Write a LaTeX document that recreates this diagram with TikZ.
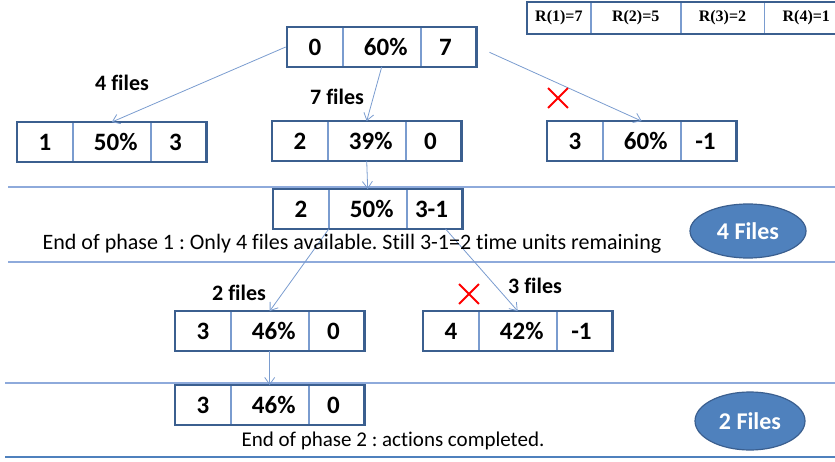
\documentclass[tikz,border=0pt]{standalone}
\usepackage{fontspec}
\setmainfont{Carlito}[Ligatures=NoCommon]
\newfontfamily\rfont{Liberation Serif}
\usepackage{xcolor}
\usetikzlibrary{positioning, fit, shapes.geometric, shapes.misc, arrows.meta}
\frenchspacing

\definecolor{frameblue}{HTML}{3B5F8F}
\definecolor{cellblue}{HTML}{7A9CCF}
\definecolor{lineblue}{HTML}{8EAADB}
\definecolor{fillblue}{HTML}{4F81BD}

\tikzset{
  lcell/.style={draw=cellblue, line width=0.8pt, minimum width=55pt, minimum height=39pt,
    inner sep=0pt, font=\fontsize{25}{27}\selectfont\bfseries},
  mcell/.style={lcell, minimum width=77pt},
  frame/.style={draw=frameblue, line width=2.6pt, inner sep=0pt},
  link/.style={draw=cellblue, line width=0.8pt, -{Straight Barb[length=7pt, width=10pt]}},
  count/.style={font=\fontsize{22}{24}\selectfont\bfseries},
  nogo/.style={cross out, draw=red, line width=1.8pt, minimum size=18pt, inner sep=0pt},
  phase/.style={font=\fontsize{22}{24}\selectfont},
  sep/.style={draw=lineblue, line width=1.4pt},
  files/.style={ellipse, draw=frameblue, line width=1.2pt, fill=fillblue, text=white,
    font=\fontsize{24}{26}\selectfont\bfseries},
  rcell/.style={draw=cellblue, line width=0.8pt, minimum height=32pt, inner sep=0pt,
    font=\rfont\fontsize{16}{18}\selectfont\bfseries},
}

% box of three cells: name, west point, texts
\newcommand{\statebox}[5]{%
  \node[lcell, anchor=west] (#1-l) at (#2) {#3};
  \node[mcell, right=0pt of #1-l] (#1-m) {\hspace*{8pt}#4};
  \node[lcell, right=0pt of #1-m] (#1-r) {#5\hspace*{6pt}};
  \node[frame, fit=(#1-l)(#1-r)] (#1) {};
}

\begin{document}
\begin{tikzpicture}[x=1pt, y=-1pt]
  \useasboundingbox (0,0) rectangle (835,462);

  % table of R values
  \node[rcell, anchor=west, minimum width=63pt] (r1) at (527,18) {R(1)=7};
  \node[rcell, right=0pt of r1, minimum width=89pt] (r2) {R(2)=5};
  \node[rcell, right=0pt of r2, minimum width=83pt] (r3) {R(3)=2};
  \node[rcell, right=0pt of r3, minimum width=83pt] (r4) {R(4)=1};
  \node[frame, line width=2pt, fit=(r1)(r4)] (rtab) {};

  % separators
  \draw[sep] (8,187) -- (835,187);
  \draw[sep] (8,262) -- (835,262);
  \draw[sep] (5,383) -- (835,383);
  \draw[sep, draw=fillblue] (5,457) -- (835,457);

  % states
  \statebox{top}{287,47}{0}{60\%}{7}
  \statebox{n1}{17,142}{1}{50\%}{3}
  \statebox{n2}{272,141}{2}{39\%}{0}
  \statebox{n3}{547,141}{3}{60\%}{-1}
  \statebox{p1}{273,209}{2}{50\%}{3-1}
  \statebox{n4}{175,331}{3}{46\%}{0}
  \statebox{n5}{423,331}{4}{42\%}{-1}
  \statebox{p2}{175,405}{3}{46\%}{0}

  % transitions
  \draw[link] (top.west) -- (n1-m.north);
  \draw[link] (top-m.south) -- (n2-m.north);
  \draw[link, shorten <=13pt] (top.east) -- (n3-m.north);
  \draw[link] (n2-m.south) -- (p1-m.north);
  \draw[link] (p1-l.south east) -- (n4-m.north);
  \draw[link] ([xshift=11pt]p1-r.south) -- (n5-m.north);
  \draw[link] (n4-m.south) -- (p2-m.north);

  \node[count] (c4) at (122,83) {4 files};
  \node[count] (c7) at (337,97) {7 files};
  \node[count] (c2) at (239,293) {2 files};
  \node[count] (c3) at (535,286) {3 files};
  \node[nogo] (x1) at (558,98) {};
  \node[nogo] (x2) at (469,294) {};

  % phase notes
  \node[phase] (end1) at (352,244) {End of phase 1 : Only 4 files available. Still 3-1=2 time units remaining};
  \node[phase, font=\fontsize{21}{23}\selectfont] (end2) at (393,441) {End of phase 2 : actions completed.};
  \node[files, minimum width=116pt, minimum height=54pt] (f1) at (748,231) {4 Files};
  \node[files, minimum width=110pt, minimum height=58pt] (f2) at (750,421) {2 Files};
\end{tikzpicture}
\end{document}
